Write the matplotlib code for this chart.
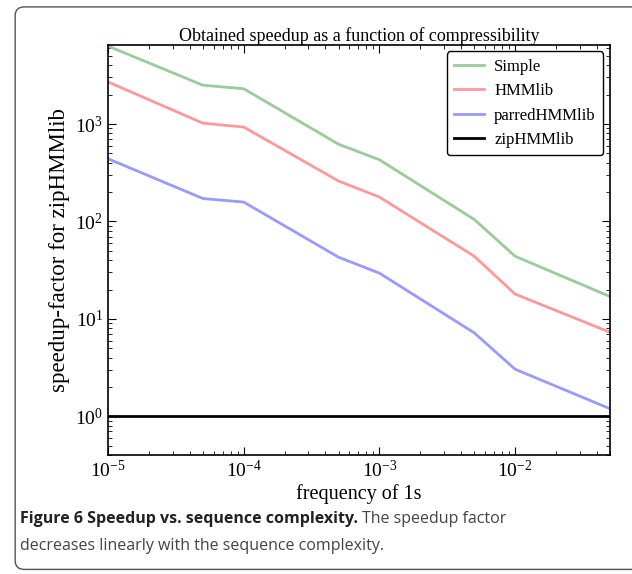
import numpy as np
import matplotlib
matplotlib.use('Agg')
import matplotlib.pyplot as plt
from matplotlib.patches import FancyBboxPatch

# data
freq = [1e-5, 5e-5, 1e-4, 5e-4, 1e-3, 5e-3, 1e-2, 5e-2]
simple = [6300, 2500, 2300, 620, 430, 105, 44, 17]
hmmlib = [2700, 1020, 930, 260, 178, 44, 18, 7.3]
parred = [440, 172, 158, 43, 29.5, 7.2, 3.05, 1.2]
zip_hmm = [1, 1, 1, 1, 1, 1, 1, 1]

names = ['Simple', 'HMMlib', 'parredHMMlib', 'zipHMMlib']
colors = ['#99cc99', '#ff9999', '#9999ff', 'black']

plt.rcParams['font.family'] = 'Liberation Serif'
plt.rcParams['mathtext.fontset'] = 'stix'

fig = plt.figure(figsize=(6.32, 5.74), dpi=100)
ax = fig.add_axes([0.171, 0.207, 0.794, 0.715])

for y, name, c in zip([simple, hmmlib, parred, zip_hmm], names, colors):
    ax.plot(freq, y, color=c, lw=2, label=name)

ax.set_xscale('log')
ax.set_yscale('log')
ax.set_xlim(1e-5, 5e-2)
ax.set_ylim(0.4, 6500)

ax.tick_params(which='both', direction='in', top=True, right=True, labelsize=14)
ax.tick_params(which='major', length=6)
ax.tick_params(which='minor', length=3)
for s in ax.spines.values():
    s.set_linewidth(1.2)

ax.set_title('Obtained speedup as a function of compressibility', fontsize=13, pad=2)
ax.set_xlabel('frequency of 1s', fontsize=14.5, labelpad=2)
ax.set_ylabel('speedup-factor for zipHMMlib', fontsize=16.5, labelpad=4)

leg = ax.legend(loc='upper right', fontsize=12, fancybox=True, framealpha=1,
                edgecolor='black', handlelength=1.8, handletextpad=0.6,
                borderpad=0.45, labelspacing=0.5, borderaxespad=0.4)

# caption: bold lead-in followed by regular text
fig.canvas.draw()
r = fig.canvas.get_renderer()
t1 = fig.text(0.032, 0.089, 'Figure 6 Speedup vs. sequence complexity.', fontsize=11.5,
              fontweight='bold', family='Open Sans', color='#222222')
bb = t1.get_window_extent(renderer=r)
x2 = (bb.x1 + 4) / fig.bbox.width
fig.text(x2, 0.089, 'The speedup factor', fontsize=11.5,
         family='Open Sans', color='#444444')
fig.text(0.032, 0.041, 'decreases linearly with the sequence complexity.', fontsize=11.5,
         family='Open Sans', color='#444444')

frame = FancyBboxPatch((0.024, 0.008), 1.2, 0.98, boxstyle='round,pad=0,rounding_size=0.015',
                       transform=fig.transFigure, fill=False, edgecolor='#555555', lw=1.0)
fig.patches.append(frame)

fig.savefig('out.png', dpi=100)
